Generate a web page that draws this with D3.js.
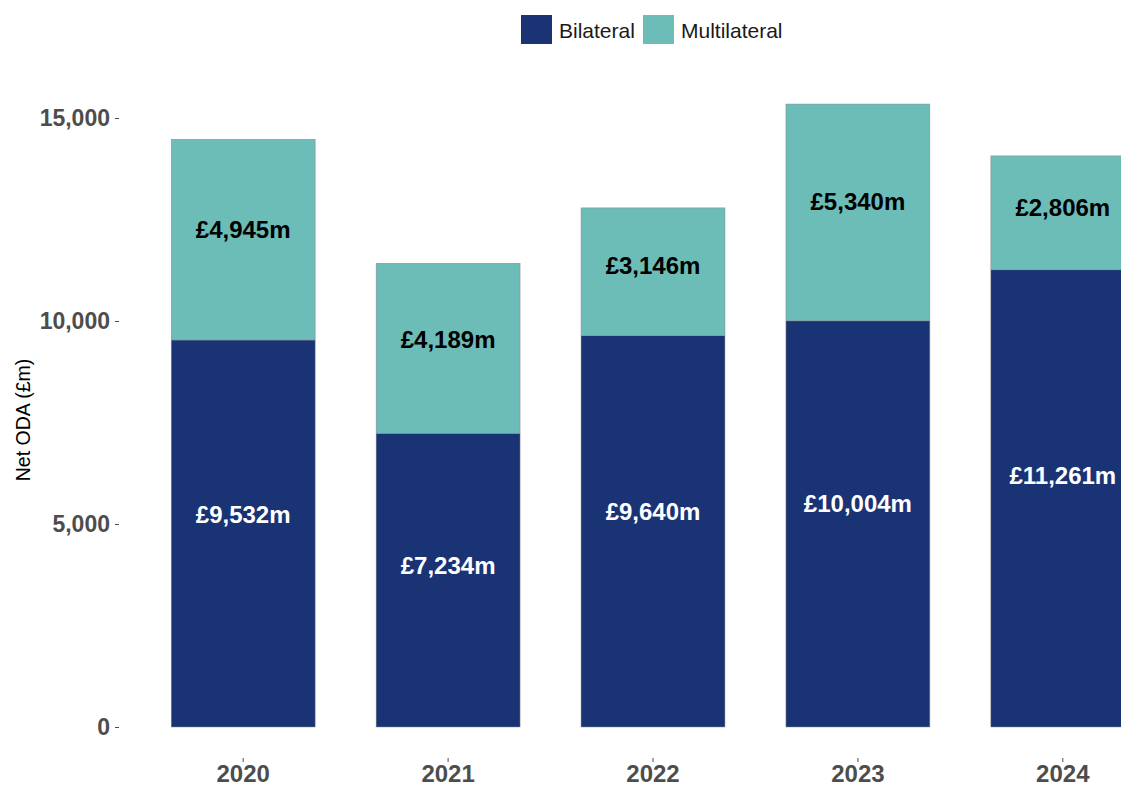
<!DOCTYPE html>
<html>
<head>
<meta charset="utf-8">
<script src="https://cdn.jsdelivr.net/npm/d3@7"></script>
<style>
  body { margin: 0; background: #fff; }
  svg { display: block; }
</style>
</head>
<body>
<div id="chart-container"></div>
<script>
var years = ["2020", "2021", "2022", "2023", "2024"];
var bilateral = [9532, 7234, 9640, 10004, 11261];
var multilateral = [4945, 4189, 3146, 5340, 2806];
var series_names = ["Bilateral", "Multilateral"];
var y_ticks = [0, 5000, 10000, 15000];

var svg_width = 1121;
var svg_height = 786;
var font = "'Liberation Sans', Arial, sans-serif";
var colors = { Bilateral: "#1a3374", Multilateral: "#6cbcb8" };

var svg = d3.select("#chart-container")
	.append("svg")
	.attr("width", svg_width)
	.attr("height", svg_height);

var x = d3.scaleBand()
	.domain(years)
	.range([120, 1186])
	.paddingInner(0.2976)
	.paddingOuter(0.25);

var y = d3.scaleLinear()
	.domain([0, 15000])
	.range([727, 118]);

var rows = years.map(function(yr, i) {
	return { year: yr, Bilateral: bilateral[i], Multilateral: multilateral[i] };
});
var stacked = d3.stack().keys(series_names)(rows);

// bars
var layers = svg.selectAll(".layer")
	.data(stacked)
	.enter().append("g")
	.attr("class", "layer")
	.attr("fill", function(d) { return colors[d.key]; });

layers.selectAll("rect")
	.data(function(d) { return d; })
	.enter().append("rect")
	.attr("x", function(d) { return x(d.data.year); })
	.attr("y", function(d) { return y(d[1]); })
	.attr("width", x.bandwidth())
	.attr("height", function(d) { return y(d[0]) - y(d[1]); })
	.attr("stroke", "#8a8a8a")
	.attr("stroke-width", 0.5);

// value labels
layers.selectAll("text")
	.data(function(d) { return d.map(function(p) { return { p: p, key: d.key }; }); })
	.enter().append("text")
	.attr("x", function(d) { return x(d.p.data.year) + x.bandwidth() / 2; })
	.attr("y", function(d) { return y(d.p[0] + (d.p[1] - d.p[0]) * 0.55); })
	.attr("dy", "0.36em")
	.attr("text-anchor", "middle")
	.style("font-family", font)
	.style("font-weight", "bold")
	.style("font-size", "24px")
	.attr("fill", function(d) { return d.key === "Bilateral" ? "#ffffff" : "#000000"; })
	.text(function(d) { return "£" + d3.format(",")(d.p[1] - d.p[0]) + "m"; });

// y axis
var yAxis = svg.append("g")
	.attr("transform", "translate(119,0)")
	.call(d3.axisLeft(y).tickValues(y_ticks).tickFormat(d3.format(",")).tickSize(4).tickPadding(5));
yAxis.select(".domain").remove();
yAxis.selectAll(".tick line").attr("stroke", "#4d4d4d");
yAxis.selectAll(".tick text")
	.attr("fill", "#4d4d4d")
	.style("font-family", font)
	.style("font-weight", "bold")
	.style("font-size", "23px");

// x axis
var xAxis = svg.append("g")
	.attr("transform", "translate(0,758)")
	.call(d3.axisBottom(x).tickSize(4).tickPadding(3));
xAxis.select(".domain").remove();
xAxis.selectAll(".tick line").attr("stroke", "#4d4d4d");
xAxis.selectAll(".tick text")
	.attr("fill", "#4d4d4d")
	.style("font-family", font)
	.style("font-weight", "bold")
	.style("font-size", "24px");

// y axis title
svg.append("text")
	.attr("transform", "translate(30,420) rotate(-90)")
	.attr("text-anchor", "middle")
	.style("font-family", font)
	.style("font-size", "19.5px")
	.attr("fill", "#000")
	.text("Net ODA (£m)");

// legend
var legend_x = [521, 643];
var legend = svg.selectAll(".legend")
	.data(series_names)
	.enter().append("g")
	.attr("class", "legend")
	.attr("transform", function(d, i) { return "translate(" + legend_x[i] + ",15)"; });

legend.append("rect")
	.attr("width", 31)
	.attr("height", 29)
	.attr("fill", function(d) { return colors[d]; });

legend.append("text")
	.attr("x", 38)
	.attr("y", 15)
	.attr("dy", "0.36em")
	.style("font-family", font)
	.style("font-size", "21px")
	.attr("fill", "#1a1a1a")
	.text(function(d) { return d; });
</script>
</body>
</html>
